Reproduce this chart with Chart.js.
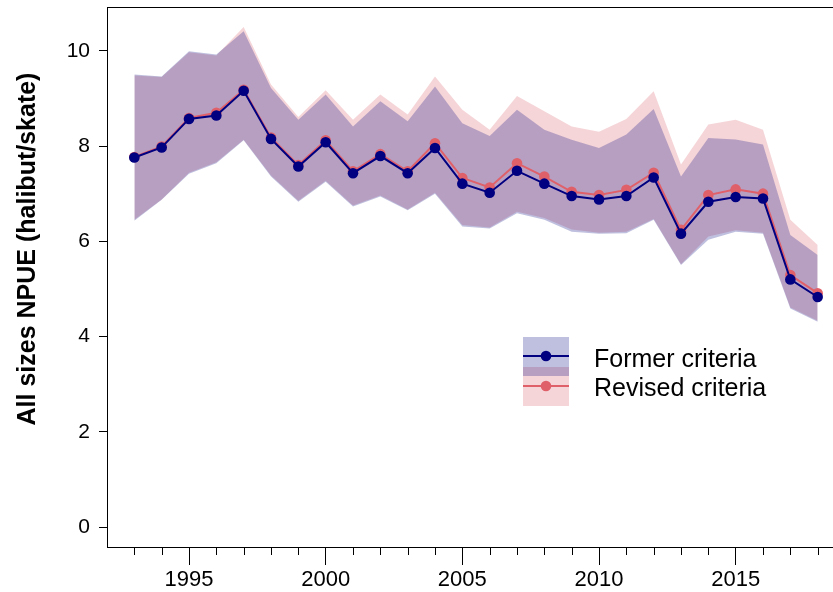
<!DOCTYPE html>
<html>
<head>
<meta charset="utf-8">
<script src="https://cdn.jsdelivr.net/npm/chart.js@4.4.0/dist/chart.umd.min.js"></script>
<style>
    html, body { margin: 0; padding: 0; background: #fff; overflow: hidden; }
    #chart { display: block; }
</style>
</head>
<body>
<canvas id="chart" width="862" height="592"></canvas>
<script>
// NPUE index by year, former vs revised criteria (mean + interval)
const years = [1993, 1994, 1995, 1996, 1997, 1998, 1999, 2000, 2001, 2002, 2003, 2004, 2005,
    2006, 2007, 2008, 2009, 2010, 2011, 2012, 2013, 2014, 2015, 2016, 2017, 2018];

const formerMean = [7.76, 7.97, 8.57, 8.64, 9.16, 8.15, 7.57, 8.08, 7.43, 7.79, 7.43, 7.96, 7.21,
    7.02, 7.48, 7.21, 6.95, 6.88, 6.95, 7.34, 6.16, 6.83, 6.93, 6.90, 5.20, 4.83];
const formerUpper = [9.50, 9.46, 9.99, 9.92, 10.41, 9.22, 8.55, 9.08, 8.41, 8.94, 8.52, 9.25, 8.48,
    8.21, 8.76, 8.34, 8.13, 7.96, 8.24, 8.78, 7.36, 8.17, 8.14, 8.03, 6.13, 5.71];
const formerLower = [6.43, 6.87, 7.42, 7.64, 8.12, 7.36, 6.83, 7.25, 6.73, 6.94, 6.65, 7.00, 6.31,
    6.27, 6.59, 6.45, 6.20, 6.16, 6.17, 6.45, 5.50, 6.03, 6.20, 6.16, 4.59, 4.31];

const revisedMean = [7.77, 7.99, 8.59, 8.70, 9.18, 8.18, 7.60, 8.12, 7.47, 7.83, 7.47, 8.06, 7.33,
    7.13, 7.64, 7.36, 7.04, 6.97, 7.08, 7.44, 6.24, 6.97, 7.09, 7.00, 5.29, 4.91];
const revisedUpper = [9.48, 9.45, 9.97, 9.90, 10.50, 9.29, 8.61, 9.17, 8.55, 9.08, 8.66, 9.46, 8.76,
    8.34, 9.05, 8.73, 8.41, 8.30, 8.57, 9.15, 7.61, 8.45, 8.55, 8.34, 6.45, 5.92];
const revisedLower = [6.45, 6.88, 7.44, 7.66, 8.13, 7.38, 6.85, 7.27, 6.75, 6.96, 6.67, 7.02, 6.34,
    6.29, 6.62, 6.49, 6.25, 6.18, 6.20, 6.47, 5.52, 6.10, 6.23, 6.18, 4.61, 4.33];

const seriesLabels = ['Former criteria', 'Revised criteria'];
const yTicks = [0, 2, 4, 6, 8, 10];
const xMajorTicks = [1995, 2000, 2005, 2010, 2015];
const yTitle = 'All sizes NPUE (halibut/skate)';

const colors = {
    former: '#000080',
    formerFill: 'rgba(0, 0, 128, 0.25)',
    revised: 'rgb(224, 96, 106)',
    revisedFill: 'rgba(215, 87, 99, 0.25)'
};
const fontFamily = '"Liberation Sans", Arial, sans-serif';

const toPoints = (arr) => years.map((yr, i) => ({ x: yr, y: arr[i] }));

function lineSet(label, arr, color, order) {
    return {
        label: label,
        data: toPoints(arr),
        borderColor: color,
        backgroundColor: color,
        borderWidth: 2,
        pointRadius: 5.3,
        pointBorderWidth: 0,
        pointBackgroundColor: color,
        tension: 0,
        fill: false,
        order: order
    };
}

function bandSet(arr, fillColor, target, order) {
    return {
        data: toPoints(arr),
        borderWidth: 0,
        borderColor: 'rgba(0,0,0,0)',
        backgroundColor: fillColor,
        pointRadius: 0,
        tension: 0,
        fill: target === null ? false : { target: target },
        order: order
    };
}

// box, minor year ticks, rotated y title, legend
const decorPlugin = {
    id: 'decor',
    afterDraw(chart) {
        const ctx = chart.ctx;
        const area = chart.chartArea;
        const xs = chart.scales.x;
        ctx.save();
        ctx.strokeStyle = '#000';
        ctx.lineWidth = 1;
        ctx.strokeRect(Math.round(area.left) + 0.5, Math.round(area.top) + 0.5,
            Math.round(area.right - area.left), Math.round(area.bottom - area.top));

        ctx.beginPath();
        years.forEach(yr => {
            if (xMajorTicks.includes(yr)) return;
            const px = Math.round(xs.getPixelForValue(yr)) + 0.5;
            ctx.moveTo(px, area.bottom);
            ctx.lineTo(px, area.bottom + 8);
        });
        ctx.stroke();

        ctx.translate(28, 249);
        ctx.rotate(-Math.PI / 2);
        ctx.fillStyle = '#000';
        ctx.font = 'bold 25px ' + fontFamily;
        ctx.textAlign = 'center';
        ctx.textBaseline = 'middle';
        ctx.fillText(yTitle, 0, 0);
        ctx.restore();

        // legend
        ctx.save();
        const lx = 523, lw = 46;
        ctx.fillStyle = colors.revisedFill;
        ctx.fillRect(lx, 367, lw, 39);
        ctx.fillStyle = colors.formerFill;
        ctx.fillRect(lx, 337, lw, 39);
        const rows = [
            { y: 356, color: colors.former, text: seriesLabels[0], ty: 366.5 },
            { y: 386, color: colors.revised, text: seriesLabels[1], ty: 396 }
        ];
        rows.forEach(r => {
            ctx.strokeStyle = r.color;
            ctx.lineWidth = 2;
            ctx.beginPath();
            ctx.moveTo(lx, r.y);
            ctx.lineTo(lx + lw, r.y);
            ctx.stroke();
            ctx.fillStyle = r.color;
            ctx.beginPath();
            ctx.arc(lx + lw / 2, r.y, 5.3, 0, Math.PI * 2);
            ctx.fill();
            ctx.fillStyle = '#000';
            ctx.font = '25px ' + fontFamily;
            ctx.textAlign = 'left';
            ctx.textBaseline = 'alphabetic';
            ctx.fillText(r.text, 594, r.ty);
        });
        ctx.restore();
    }
};

const chart = new Chart(document.getElementById('chart'), {
    type: 'line',
    data: {
        datasets: [
            lineSet(seriesLabels[0], formerMean, colors.former, 0),
            lineSet(seriesLabels[1], revisedMean, colors.revised, 1),
            bandSet(formerUpper, colors.formerFill, 3, 2),
            bandSet(formerLower, colors.formerFill, null, 2),
            bandSet(revisedUpper, colors.revisedFill, 5, 3),
            bandSet(revisedLower, colors.revisedFill, null, 3)
        ]
    },
    options: {
        responsive: false,
        animation: false,
        devicePixelRatio: 1,
        layout: { padding: { top: 7, right: 17, left: 0, bottom: 0 } },
        plugins: {
            legend: { display: false },
            tooltip: { enabled: false },
            title: { display: false }
        },
        scales: {
            x: {
                type: 'linear',
                min: 1992,
                max: 2019,
                grid: { drawOnChartArea: false, drawTicks: true, tickLength: 18, color: '#000', lineWidth: 1 },
                border: { display: false },
                ticks: {
                    stepSize: 5,
                    includeBounds: false,
                    autoSkip: false,
                    maxRotation: 0,
                    padding: 2,
                    color: '#000',
                    font: { family: fontFamily, size: 22 },
                    callback: v => String(v)
                },
                afterFit: s => {
                    s.height = 45;
                    s.paddingLeft = 0;
                    s.paddingRight = 0;
                }
            },
            y: {
                type: 'linear',
                min: -0.42,
                max: 10.92,
                grid: { drawOnChartArea: false, drawTicks: true, tickLength: 8, color: '#000', lineWidth: 1 },
                border: { display: false },
                ticks: {
                    stepSize: 2,
                    includeBounds: false,
                    padding: 9,
                    color: '#000',
                    font: { family: fontFamily, size: 21 },
                    callback: v => yTicks.includes(v) ? String(v) : ''
                },
                afterFit: s => {
                    s.width = 107;
                    s.paddingTop = 0;
                    s.paddingBottom = 0;
                }
            }
        }
    },
    plugins: [decorPlugin]
});
</script>
</body>
</html>
